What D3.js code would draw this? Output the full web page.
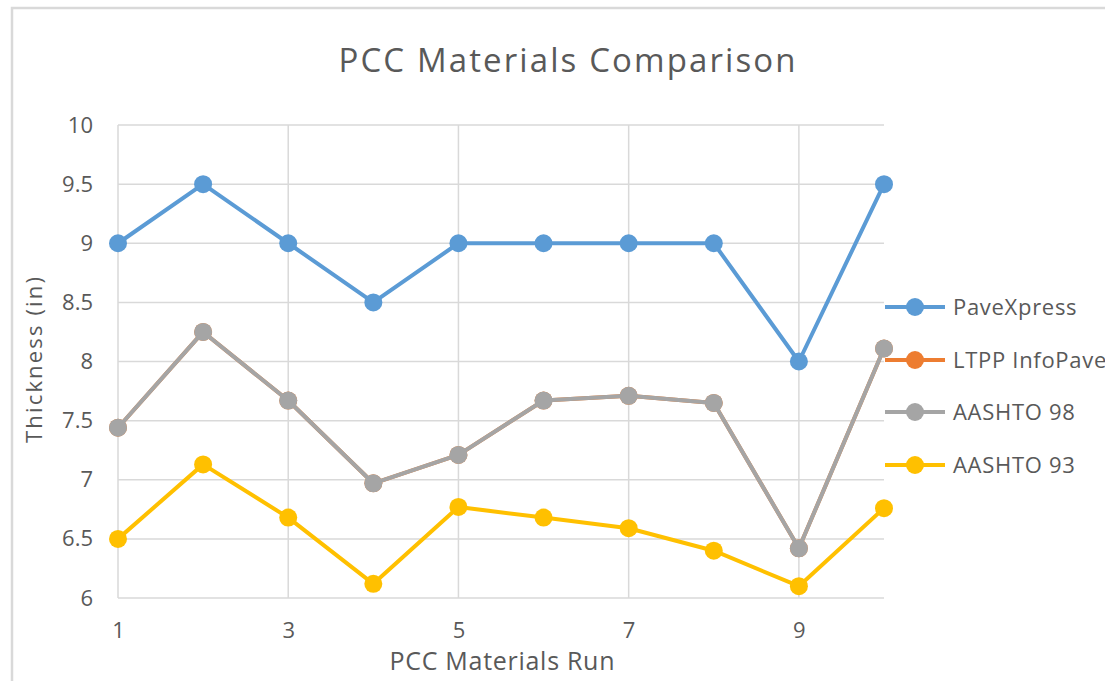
<!DOCTYPE html>
<html><head><meta charset="utf-8">
<script src="https://cdn.jsdelivr.net/npm/d3@7"></script>
<style>body{margin:0;background:#fff}svg{display:block}text{font-family:"Open Sans","Segoe UI",sans-serif;fill:#595959}</style>
</head><body><svg id="c" width="1105" height="681"></svg>
<script>
const runs = [1,2,3,4,5,6,7,8,9,10];
const xTicks = [1,3,5,7,9];
const yTicks = [6,6.5,7,7.5,8,8.5,9,9.5,10];
const seriesNames = ["PaveXpress","LTPP InfoPave","AASHTO 98","AASHTO 93"];
const paveXpress = [9,9.5,9,8.5,9,9,9,9,8,9.5];
const ltppInfoPave = [7.44,8.25,7.67,6.97,7.21,7.67,7.71,7.65,6.42,8.11];
const aashto98 = [7.44,8.25,7.67,6.97,7.21,7.67,7.71,7.65,6.42,8.11];
const aashto93 = [6.5,7.13,6.68,6.12,6.77,6.68,6.59,6.4,6.1,6.76];
const colors = ["#5B9BD5","#ED7D31","#A5A5A5","#FFC000"];
const allSeries = [paveXpress, ltppInfoPave, aashto98, aashto93];

const svg = d3.select("#c");
// outer frame
svg.append("path").attr("d","M12,681V8H1105").attr("fill","none").attr("stroke","#d9d9d9").attr("stroke-width",2.5);

const x = d3.scaleLinear().domain([1,10]).range([118,884]);
const y = d3.scaleLinear().domain([6,10]).range([598,125]);

// grid
const g = svg.append("g");
g.selectAll(".hg").data(yTicks).join("line")
  .attr("x1",118).attr("x2",884).attr("y1",d=>y(d)).attr("y2",d=>y(d))
  .attr("stroke","#d9d9d9").attr("stroke-width",1.5);
g.selectAll(".vg").data(xTicks).join("line")
  .attr("x1",d=>x(d)).attr("x2",d=>x(d)).attr("y1",125).attr("y2",598)
  .attr("stroke","#d9d9d9").attr("stroke-width",1.5);

// axes labels
const yAxis = d3.axisLeft(y).tickValues(yTicks).tickSize(0).tickPadding(25).tickFormat(d3.format("~g"));
const ya = svg.append("g").attr("transform","translate(118,0)").call(yAxis);
ya.select(".domain").remove();
ya.selectAll("text").style("font-size","22px").attr("fill","#595959").attr("font-family",null);

const xAxis = d3.axisBottom(x).tickValues(xTicks).tickSize(0).tickPadding(24).tickFormat(d3.format("d"));
const xa = svg.append("g").attr("transform","translate(0,598)").call(xAxis);
xa.select(".domain").remove();
xa.selectAll("text").style("font-size","22px").attr("fill","#595959").attr("font-family",null);

// titles
svg.append("text").attr("x",567).attr("y",72).attr("text-anchor","middle").style("font-size","33px")
  .attr("textLength",457).attr("lengthAdjust","spacing").text("PCC Materials Comparison");
svg.append("text").attr("x",502).attr("y",670).attr("text-anchor","middle").style("font-size","25px")
  .attr("textLength",225).attr("lengthAdjust","spacing").text("PCC Materials Run");
svg.append("text").attr("transform","translate(42,360) rotate(-90)").attr("text-anchor","middle").style("font-size","22px")
  .attr("textLength",166).attr("lengthAdjust","spacing").text("Thickness (in)");

// series
const line = d3.line().x((d,i)=>x(runs[i])).y(d=>y(d));
allSeries.forEach((s,k)=>{
  const sg = svg.append("g");
  sg.append("path").datum(s).attr("d",line).attr("fill","none").attr("stroke",colors[k]).attr("stroke-width",4).attr("stroke-linejoin","round");
  sg.selectAll("circle").data(s).join("circle").attr("cx",(d,i)=>x(runs[i])).attr("cy",d=>y(d)).attr("r",9).attr("fill",colors[k]);
});

// legend
const leg = svg.append("g");
const ly = [307,360,412,465];
seriesNames.forEach((n,k)=>{
  leg.append("line").attr("x1",885).attr("x2",945).attr("y1",ly[k]).attr("y2",ly[k]).attr("stroke",colors[k]).attr("stroke-width",4);
  leg.append("circle").attr("cx",915).attr("cy",ly[k]).attr("r",9).attr("fill",colors[k]);
  leg.append("text").attr("x",953).attr("y",ly[k]).attr("dy","0.35em").style("font-size","22px").style("letter-spacing","0.7px").text(n);
});
</script></body></html>
